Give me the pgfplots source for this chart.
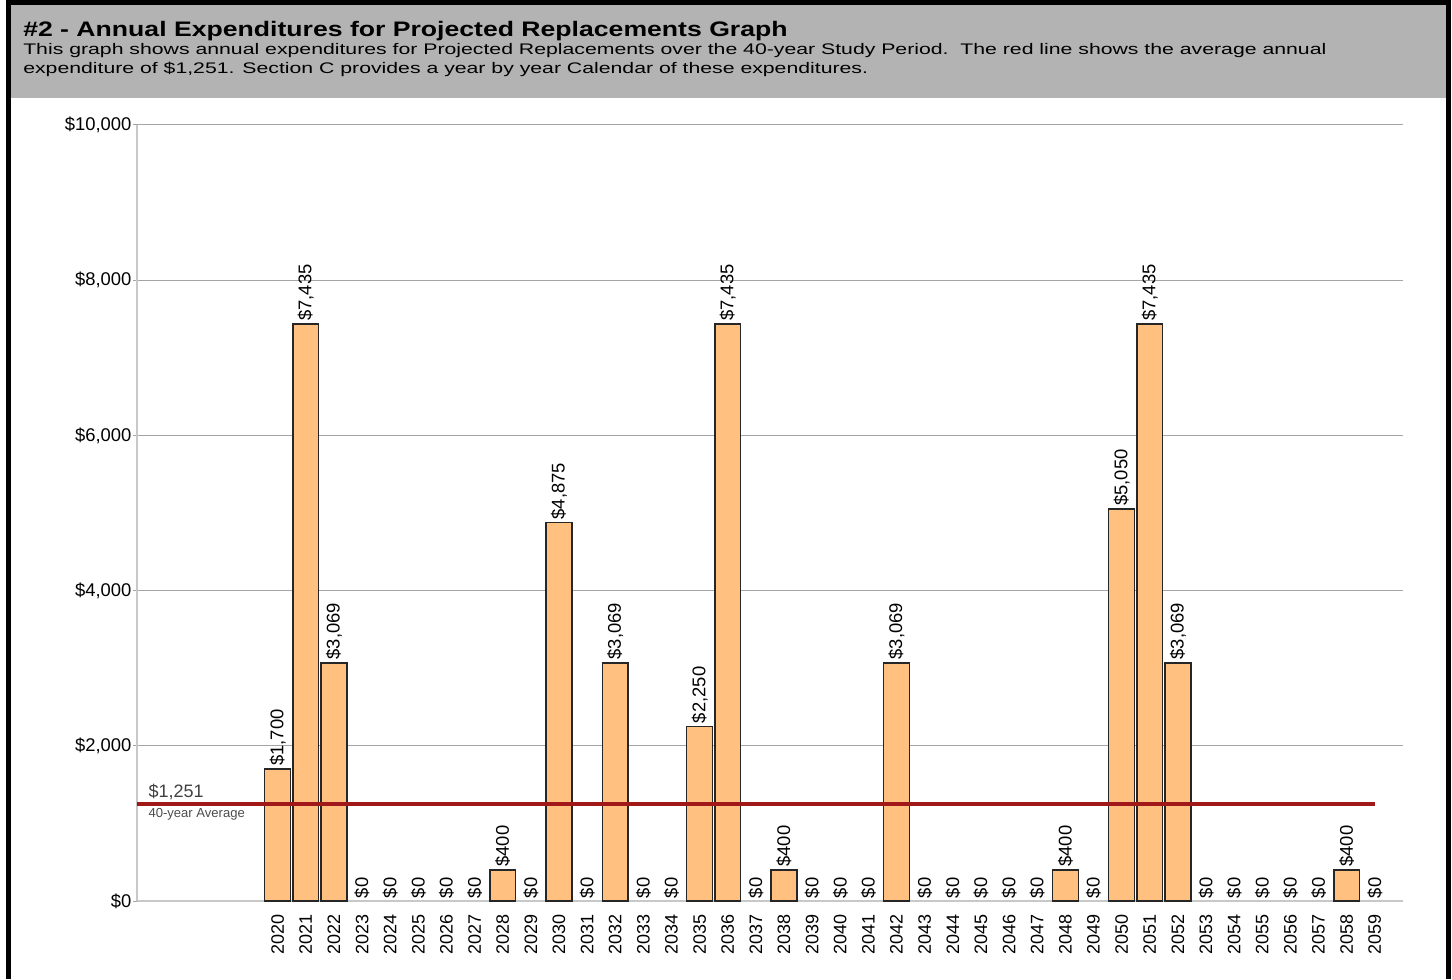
\documentclass[border=0pt]{standalone}
\usepackage{graphicx}
\usepackage{fontspec}
\setmainfont{Liberation Sans}
\usepackage{pgfplots}
\pgfplotsset{compat=1.18}
\definecolor{hdrgray}{RGB}{179,179,179}
\definecolor{barfill}{RGB}{255,192,128}
\definecolor{avgred}{RGB}{160,24,24}
\definecolor{gridgray}{RGB}{165,165,165}
\definecolor{axisgray}{RGB}{200,200,200}
\begin{document}
\begin{tikzpicture}
\useasboundingbox (0,0) rectangle (1089pt,734.25pt);
% header band and frame (1px = 0.75pt)
\begin{scope}[x=0.75pt,y=0.75pt]
\fill[hdrgray] (8,881) rectangle (1448,976);
\draw[line width=3.75pt] (8,0) -- (8,976) -- (1448,976) -- (1448,0);
\node[anchor=base west, inner sep=0] at (23,942)
  {\scalebox{1.267}[1]{\fontsize{15.75}{18}\selectfont\bfseries \#2 - Annual Expenditures for Projected Replacements Graph}};
\node[anchor=base west, inner sep=0] at (23,924)
  {\scalebox{1.385}[1]{\fontsize{11.5}{14}\selectfont This graph shows annual expenditures for Projected Replacements over the 40-year Study Period.\ \ The red line shows the average annual}};
\node[anchor=base west, inner sep=0] at (23,905)
  {\scalebox{1.385}[1]{\fontsize{11.5}{14}\selectfont expenditure of \$1,251. Section C provides a year by year Calendar of these expenditures.}};
\end{scope}
\begin{axis}[
  at={(102.75pt,58.5pt)}, anchor=south west,
  scale only axis, width=949.5pt, height=582pt,
  xmin=2015, xmax=2060, ymin=0, ymax=10000,
  axis x line=bottom, axis y line=left,
  axis line style={-, draw=axisgray, line width=1.5pt},
  ytick={0,2000,...,10000}, scaled y ticks=false,
  ymajorgrids, grid style={draw=gridgray, line width=0.75pt},
  tick align=outside, major tick length=3pt,
  ytick style={draw=gridgray, line width=0.75pt},
  xtick style={draw=none},
  xtick={2020,...,2059},
  /pgf/number format/assume math mode=true,
  xticklabel style={rotate=90, anchor=east, inner sep=0pt, xshift=-7pt,
    font=\fontsize{13.5}{14}\selectfont, /pgf/number format/1000 sep={}},
  yticklabel={\$\pgfmathprintnumber[fixed,precision=0,1000 sep={,}]{\tick}},
  yticklabel style={font=\fontsize{13.8}{14}\selectfont, inner sep=1pt},
  bar width=0.92,
  nodes near coords={\$\pgfmathprintnumber[fixed,precision=0,1000 sep={,}]{\pgfplotspointmeta}},
  every node near coord/.append style={rotate=90, anchor=west,
    font=\fontsize{13.8}{14}\selectfont, inner sep=2pt, text=black},
]
% years with spending
\addplot[ybar, bar shift=0pt, fill=barfill, draw=black!85, line width=1.1pt] coordinates {
  (2020,1700) (2021,7435) (2022,3069) (2028,400) (2030,4875) (2032,3069)
  (2035,2250) (2036,7435) (2038,400) (2042,3069) (2048,400) (2050,5050)
  (2051,7435) (2052,3069) (2058,400)};
% years with nothing spent
\addplot[ybar, bar shift=0pt, draw=none, fill=none] coordinates {
  (2023,0) (2024,0) (2025,0) (2026,0) (2027,0) (2029,0) (2031,0) (2033,0)
  (2034,0) (2037,0) (2039,0) (2040,0) (2041,0) (2043,0) (2044,0) (2045,0)
  (2046,0) (2047,0) (2049,0) (2053,0) (2054,0) (2055,0) (2056,0) (2057,0)
  (2059,0)};
% 40-year average
\addplot[avgred, line width=2.4pt, nodes near coords={}] coordinates {(2015,1251) (2059,1251)};
\node[anchor=base west, inner sep=0, text=black!75, font=\fontsize{13.5}{14}\selectfont]
  at (axis cs:2015.4,1340) {\$1,251};
\node[anchor=base west, inner sep=0, text=black!70, font=\fontsize{9.8}{11}\selectfont]
  at (axis cs:2015.4,1070) {40-year Average};
\end{axis}
\end{tikzpicture}
\end{document}
